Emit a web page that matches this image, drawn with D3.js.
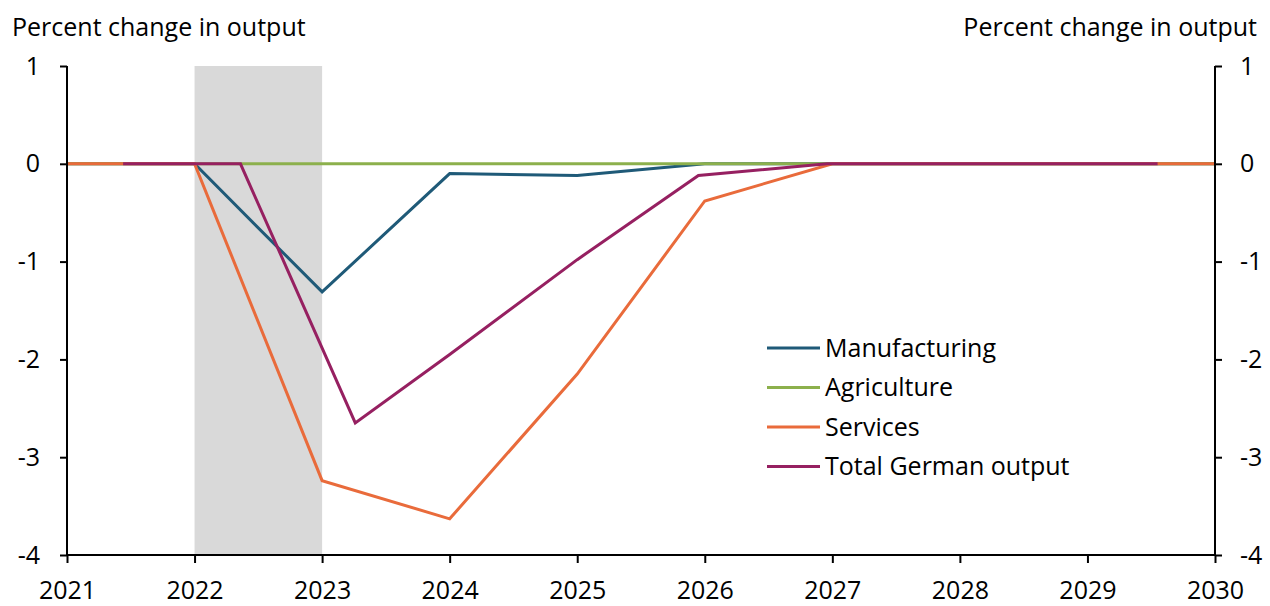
<!DOCTYPE html>
<html>
<head>
<meta charset="utf-8">
<script src="https://cdn.jsdelivr.net/npm/d3@7"></script>
<style>
body { margin: 0; background: #fff; }
text { font-family: "Open Sans", "Noto Sans", sans-serif; fill: #000; }
</style>
</head>
<body>
<div id="vis"></div>
<script>
var width = 1270,
	height = 606;

var margin = {top: 66, right: 55, bottom: 51, left: 67};

// data
var years = [2021, 2022, 2023, 2024, 2025, 2026, 2027, 2028, 2029, 2030];
var manufacturing = [0, 0, -1.31, -0.10, -0.12, 0, 0, 0, 0, 0];
var agriculture = [0, 0, 0, 0, 0, 0, 0, 0, 0, 0];
var services = [0, 0, -3.24, -3.63, -2.15, -0.38, 0, 0, 0, 0];
// total output is plotted at offset dates
var totalX = [2021.44, 2022.36, 2023.26, 2024, 2025, 2025.95, 2026.96, 2028, 2029, 2029.55];
var totalY = [0, 0, -2.65, -1.95, -0.98, -0.12, 0, 0, 0, 0];
var shade = [2022, 2023];
var yTicks = [1, 0, -1, -2, -3, -4];

var seriesNames = ["Manufacturing", "Agriculture", "Services", "Total German output"];
var seriesColors = ["#1f5a78", "#8cb04c", "#e96b3b", "#962061"];

var fontSize = '25px';

var x = d3.scaleLinear().domain([2021, 2030]).range([margin.left, width - margin.right]),
	y = d3.scaleLinear().domain([-4, 1]).range([height - margin.bottom, margin.top]);

var svg = d3.select('#vis')
	.append('svg')
	.attr('width', width)
	.attr('height', height);

// shaded period
svg.append('rect')
	.attr('x', x(shade[0]))
	.attr('y', y(1))
	.attr('width', x(shade[1]) - x(shade[0]))
	.attr('height', y(-4) - y(1))
	.style('fill', '#d9d9d9');

var line = d3.line()
	.x(function(d) { return x(d[0]); })
	.y(function(d) { return y(d[1]); });

var series = [
	years.map(function(d, i) { return [d, manufacturing[i]]; }),
	years.map(function(d, i) { return [d, agriculture[i]]; }),
	years.map(function(d, i) { return [d, services[i]]; }),
	totalX.map(function(d, i) { return [d, totalY[i]]; })
];

svg.selectAll('path.series')
	.data(series)
	.enter()
	.append('path')
	.attr('class', 'series')
	.attr('d', line)
	.style('fill', 'none')
	.style('stroke', function(d, i) { return seriesColors[i]; })
	.style('stroke-width', 3)
	.style('stroke-linejoin', 'miter');

// axes (plain hyphen for negatives, like the original)
var yFormat = function(d) { return String(d); };

var xAxis = svg.append('g')
	.attr('transform', 'translate(0,' + y(-4) + ')')
	.call(d3.axisBottom(x).tickValues(years).tickFormat(d3.format('d')).tickSize(8).tickPadding(18));

var leftAxis = svg.append('g')
	.attr('transform', 'translate(' + x(2021) + ',0)')
	.call(d3.axisLeft(y).tickValues(yTicks).tickFormat(yFormat).tickSize(7).tickPadding(20));

var rightAxis = svg.append('g')
	.attr('transform', 'translate(' + x(2030) + ',0)')
	.call(d3.axisRight(y).tickValues(yTicks).tickFormat(yFormat).tickSize(7).tickPadding(18));

[xAxis, leftAxis, rightAxis].forEach(function(a) {
	a.select('.domain').style('stroke', '#000').style('stroke-width', 2);
	a.selectAll('.tick line').style('stroke', '#000').style('stroke-width', 2);
	a.selectAll('.tick text')
		.style('font-family', '"Open Sans", sans-serif')
		.style('font-size', fontSize)
		.style('fill', '#000');
});
leftAxis.select('.domain').attr('d', 'M0,' + y(1) + 'V' + y(-4));
rightAxis.select('.domain').attr('d', 'M0,' + y(1) + 'V' + y(-4));
xAxis.select('.domain').attr('d', 'M' + x(2021) + ',0H' + x(2030));

// axis titles
svg.append('text')
	.attr('x', 12)
	.attr('y', 36)
	.style('font-size', fontSize)
	.text('Percent change in output');

svg.append('text')
	.attr('x', 1257)
	.attr('y', 36)
	.attr('text-anchor', 'end')
	.style('font-size', fontSize)
	.text('Percent change in output');

// legend
var legend = svg.selectAll('g.legend')
	.data(seriesNames)
	.enter()
	.append('g')
	.attr('class', 'legend')
	.attr('transform', function(d, i) { return 'translate(767,' + (348 + i * 39.5) + ')'; });

legend.append('line')
	.attr('x1', 0)
	.attr('x2', 53)
	.style('stroke', function(d, i) { return seriesColors[i]; })
	.style('stroke-width', 3);

legend.append('text')
	.attr('x', 58)
	.attr('dy', '0.35em')
	.style('font-size', fontSize)
	.text(function(d) { return d; });
</script>
</body>
</html>
